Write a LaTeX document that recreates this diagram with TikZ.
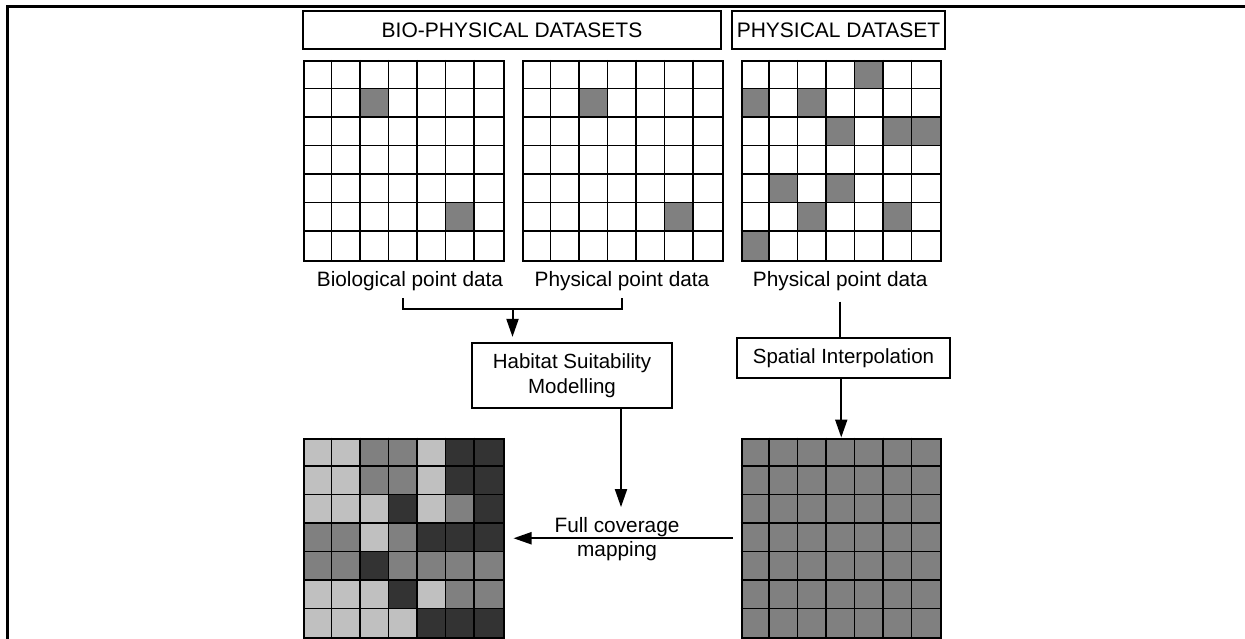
\documentclass[tikz,border=0pt]{standalone}
\usepackage{fontspec}
\setmainfont{Liberation Sans}
\usetikzlibrary{arrows.meta}
\definecolor{cL}{HTML}{C0C0C0}
\definecolor{cM}{HTML}{808080}
\definecolor{cD}{HTML}{333333}
\newcommand\cellsize{28.5}
% inner cell lines of a 7x7 grid whose top left corner is (#1,#2)
\newcommand\cellgrid[2]{%
  \foreach \ii in {1,...,6}{
    \draw[gridline] ({#1+\ii*\cellsize},#2) -- ++(0,7*\cellsize);
    \draw[gridline] (#1,{#2+\ii*\cellsize}) -- ++(7*\cellsize,0);
  }}
% fill the listed row/column cells of that grid with colour #3
\newcommand\cellfill[3]{%
  \foreach \ri/\ci in {#3}{
    \fill[cM] ({#1+\ci*\cellsize},{#2+\ri*\cellsize}) rectangle ++(\cellsize,\cellsize);
  }}
\begin{document}
\begin{tikzpicture}[x=1pt,y=-1pt,
  flow/.style={line width=2pt,-{Triangle[length=18pt,width=12pt]}},
  plain/.style={line width=1.6pt},
  gridline/.style={line width=1.6pt},
  gridframe/.style={draw,line width=2pt,minimum width=199.5pt,minimum height=199.5pt,inner sep=0pt,anchor=north west},
  hdr/.style={draw,line width=1.2pt,minimum height=38pt,inner sep=0pt,font=\fontsize{21}{25}\selectfont},
  procbox/.style={draw,line width=1.2pt,align=center,inner sep=0pt,font=\fontsize{20.5}{25}\selectfont},
  lbl/.style={inner sep=0pt,font=\fontsize{20.8}{24}\selectfont}]
\useasboundingbox (0,0) rectangle (1245,639);

% outer frame (top and left edges)
\draw[line width=2.4pt,line join=miter] (7.3,640) -- (7.3,6.7) -- (1246,6.7);

% dataset headers
\node[hdr,minimum width=418pt] (hbio) at (512,30) {BIO-PHYSICAL DATASETS};
\node[hdr,minimum width=213pt] (hphy) at (838.5,30) {PHYSICAL DATASET};

% point data grids
\cellfill{303}{60}{1/2,5/5}
\cellfill{522}{60}{1/2,5/5}
\cellfill{740.5}{60}{0/4,1/0,1/2,2/3,2/5,2/6,4/1,4/3,5/2,5/5,6/0}
\cellgrid{303}{60}
\cellgrid{522}{60}
\cellgrid{740.5}{60}
\node[gridframe] (g1) at (303,60) {};
\node[gridframe] (g2) at (522,60) {};
\node[gridframe] (g3) at (740.5,60) {};

% full coverage grids
\foreach \rowcols [count=\ri from 0] in {{L,L,M,M,L,D,D},{L,L,M,M,L,D,D},{L,L,L,D,L,M,D},{M,M,L,M,D,D,D},{M,M,D,M,M,M,M},{L,L,L,D,L,M,M},{L,L,L,L,D,D,D}}{
  \foreach \kk [count=\ci from 0] in \rowcols {
    \fill[c\kk] ({303+\ci*\cellsize},{437.5+\ri*\cellsize}) rectangle ++(\cellsize,\cellsize);
  }
}
\fill[cM] (740.5,437.5) rectangle ++(199.5,199.5);
\cellgrid{303}{437.5}
\cellgrid{740.5}{437.5}
\node[gridframe] (g4) at (303,437.5) {};
\node[gridframe] (g5) at (740.5,437.5) {};

% grid captions
\node[lbl,anchor=base] (lab1) at (410,286) {Biological point data};
\node[lbl,anchor=base] (lab2) at (622,286) {Physical point data};
\node[lbl,anchor=base] (lab3) at (840.25,286) {Physical point data};

% processing steps
\node[procbox,minimum width=200pt,minimum height=65pt] (hsm) at (572,375.5) {Habitat Suitability\\Modelling};
\node[procbox,minimum width=213pt,minimum height=40pt] (spi) at (843.5,358) {Spatial Interpolation};
\node[lbl,align=center] (fcm) at (617,539) {Full coverage\\mapping};

% bracket joining the two bio-physical datasets
\coordinate (bl) at (403,298);
\coordinate (br) at (622,298);
\coordinate (bm) at (512.5,309);
\draw[plain] (bl) -- (bl |- bm) -- (br |- bm) -- (br);
\draw[flow] (bm) -- ([yshift=5.5pt]bm |- hsm.north);

% physical dataset to interpolation
\draw[plain] ([yshift=-11pt]lab3.south) -- (lab3.south |- spi.north);
\draw[flow] (spi.south -| g5.north) -- (g5.north);

% modelling output and full coverage mapping
\draw[flow] ([xshift=49pt]hsm.south) -- ([xshift=49pt,yshift=10pt]hsm.south |- fcm.north);
\draw[flow] ([xshift=-8pt]g5.west) -- ([xshift=9pt]g4.east);
\end{tikzpicture}
\end{document}
